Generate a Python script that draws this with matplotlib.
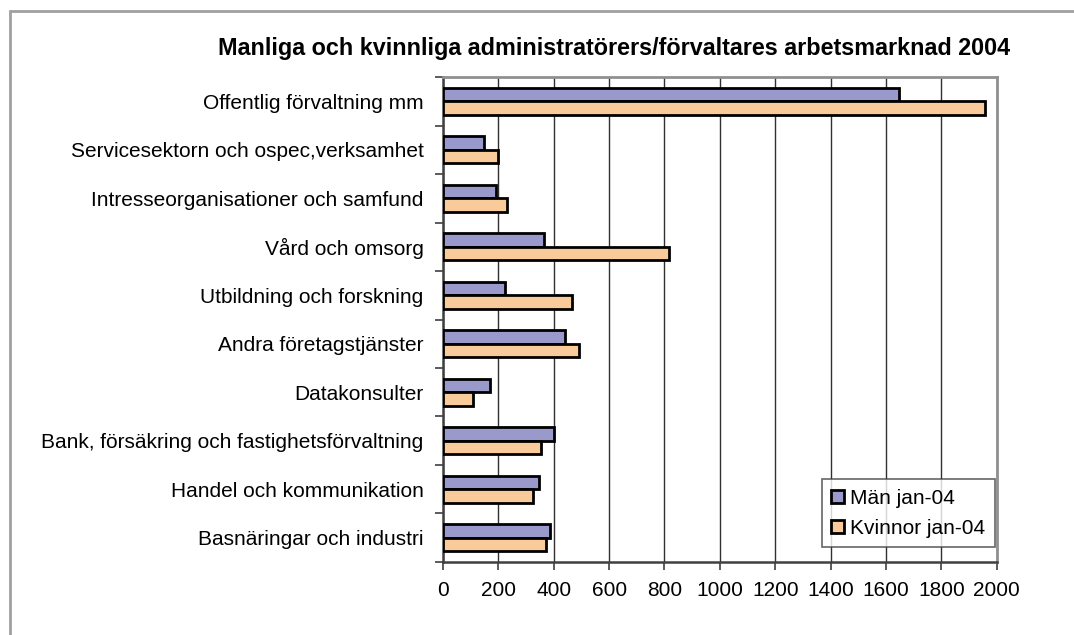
import numpy as np
import matplotlib
matplotlib.use('Agg')
import matplotlib.pyplot as plt
from matplotlib.patches import Rectangle

plt.rcParams['font.family'] = ['Liberation Sans', 'DejaVu Sans']

# data
categories = ['Offentlig förvaltning mm',
              'Servicesektorn och ospec,verksamhet',
              'Intresseorganisationer och samfund',
              'Vård och omsorg',
              'Utbildning och forskning',
              'Andra företagstjänster',
              'Datakonsulter',
              'Bank, försäkring och fastighetsförvaltning',
              'Handel och kommunikation',
              'Basnäringar och industri']
man = [1647, 149, 190, 366, 223, 440, 171, 400, 347, 385]
kvinnor = [1958, 200, 232, 817, 466, 491, 110, 354, 325, 372]
series_names = ['Män jan-04', 'Kvinnor jan-04']
xticks = list(range(0, 2001, 200))

title = 'Manliga och kvinnliga administratörers/förvaltares arbetsmarknad 2004'

fig = plt.figure(figsize=(10.74, 6.35), dpi=100)
ax = fig.add_axes([0.4125, 0.115, 0.928 - 0.4125, 0.8787 - 0.115])

# outer chart border (only top/left visible in the reference)
fig.patches.append(Rectangle((10 / 1074, -0.1), 1.2, 1 - 11 / 635 + 0.1,
                             transform=fig.transFigure, fill=False,
                             edgecolor='#a0a0a0', linewidth=2))

y = np.arange(len(categories))
h = 0.28
ax.barh(y - h / 2, man, height=h, color='#9999cc', edgecolor='black',
        linewidth=2, label=series_names[0], zorder=3)
ax.barh(y + h / 2, kvinnor, height=h, color='#facb9a', edgecolor='black',
        linewidth=2, label=series_names[1], zorder=3)

fs = 15
ax.set_ylim(len(categories) - 0.5, -0.5)
ax.set_xlim(0, 2000)
ax.set_xticks(xticks)
ax.set_xticklabels([str(v) for v in xticks], fontsize=fs)
ax.set_yticks(y)
ax.set_yticklabels(categories, fontsize=fs)
ax.set_yticks(np.arange(len(categories) + 1) - 0.5, minor=True)
ax.tick_params(axis='y', which='major', length=0, pad=14)
ax.tick_params(axis='y', which='minor', length=6, width=1.2, color='#404040')
ax.tick_params(axis='x', length=6, width=1.2, color='#404040', pad=8)

ax.grid(axis='x', color='#303030', linewidth=1.0, zorder=0)
for side in ['top', 'right']:
    ax.spines[side].set_color('#909090')
    ax.spines[side].set_linewidth(2)
for side in ['left', 'bottom']:
    ax.spines[side].set_color('#404040')
    ax.spines[side].set_linewidth(1.8)

fig.text(0.572, 1 - 48 / 635, title, ha='center', va='center',
         fontsize=16.8, fontweight='bold')

leg = ax.legend(loc='lower right', bbox_to_anchor=(0.9965, 0.03),
                fontsize=fs, frameon=True, fancybox=False,
                handlelength=0.6, handleheight=0.6, handletextpad=0.3,
                borderpad=0.45, labelspacing=0.55, borderaxespad=0)
leg.get_frame().set_edgecolor('#404040')
leg.get_frame().set_linewidth(1.2)

fig.savefig('out.png', dpi=100)
